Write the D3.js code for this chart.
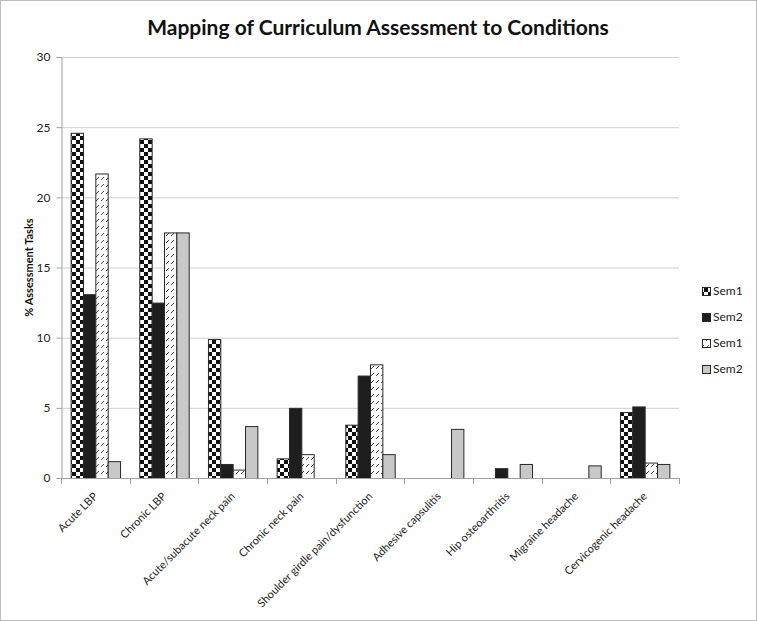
<!DOCTYPE html>
<html><head><meta charset="utf-8">
<script src="https://cdn.jsdelivr.net/npm/d3@7"></script>
<style>body{margin:0;background:#fff}svg{display:block}</style>
</head><body>
<svg id="c" width="757" height="621"></svg>
<script>
const categories = ["Acute LBP","Chronic LBP","Acute/subacute neck pain","Chronic neck pain","Shoulder girdle pain/dysfunction","Adhesive capsulitis","Hip osteoarthritis","Migraine headache","Cervicogenic headache"];
const seriesNames = ["Sem1","Sem2","Sem1","Sem2"];
const s1a = [24.6, 24.2, 9.9, 1.4, 3.8, 0, 0, 0, 4.7];
const s2a = [13.1, 12.5, 1.0, 5.0, 7.3, 0, 0.7, 0, 5.1];
const s1b = [21.7, 17.5, 0.6, 1.7, 8.1, 0, 0, 0, 1.1];
const s2b = [1.2, 17.5, 3.7, 0, 1.7, 3.5, 1.0, 0.9, 1.0];
const yTicks = [0,5,10,15,20,25,30];
const series = [s1a, s2a, s1b, s2b];
const fills = ["url(#checker)","#1e1e1e","url(#hatch)","#c8c8c8"];

const svg = d3.select("#c");
const font = "Lato, 'Open Sans', sans-serif";
svg.append("rect").attr("x",0.5).attr("y",0.5).attr("width",756).attr("height",620).attr("fill","#fff").attr("stroke","#bdbdbd");

const defs = svg.append("defs");
const pc = defs.append("pattern").attr("id","checker").attr("patternUnits","userSpaceOnUse").attr("width",8).attr("height",8);
pc.append("rect").attr("width",8).attr("height",8).attr("fill","#fff");
pc.append("rect").attr("width",4).attr("height",4).attr("fill","#111");
pc.append("rect").attr("x",4).attr("y",4).attr("width",4).attr("height",4).attr("fill","#111");
const ph = defs.append("pattern").attr("id","hatch").attr("patternUnits","userSpaceOnUse").attr("width",5).attr("height",7);
ph.append("rect").attr("width",5).attr("height",7).attr("fill","#fff");
ph.append("line").attr("x1",1).attr("y1",5).attr("x2",4).attr("y2",2).attr("stroke","#333").attr("stroke-width",0.9);

const L = 61, R = 679, T = 57, B = 478;
const x = d3.scaleBand().domain(categories).range([L,R]);
const xi = d3.scaleBand().domain(d3.range(4)).range([0,x.bandwidth()]).paddingOuter(0.78);
const y = d3.scaleLinear().domain([0,30]).range([B,T]);

svg.append("text").attr("x",378).attr("y",35).attr("text-anchor","middle")
  .attr("font-family",font).attr("font-weight","bold").attr("font-size",21).attr("fill","#111")
  .text("Mapping of Curriculum Assessment to Conditions");

// gridlines
svg.append("g").selectAll("line").data(yTicks.filter(d=>d>0)).join("line")
  .attr("x1",L).attr("x2",R).attr("y1",d=>y(d)+0.5).attr("y2",d=>y(d)+0.5)
  .attr("stroke","#cfcfcf");

// y axis
const ya = svg.append("g").attr("transform",`translate(${L+0.5},0)`)
  .call(d3.axisLeft(y).tickValues(yTicks).tickSize(5).tickPadding(6));
ya.select(".domain").attr("stroke","#a0a0a0");
ya.selectAll(".tick line").attr("stroke","#a0a0a0");
ya.selectAll("text").attr("font-family",font).attr("font-size",12).attr("fill","#222");

// bars
const g = svg.append("g");
series.forEach((s,si)=>{
  g.append("g").selectAll("rect").data(s.map((v,i)=>({v,c:categories[i]})).filter(d=>d.v>0)).join("rect")
    .attr("x",d=>x(d.c)+xi(si)+0.5)
    .attr("y",d=>y(d.v)+0.5)
    .attr("width",xi.bandwidth())
    .attr("height",d=>y(0)-y(d.v))
    .attr("fill",fills[si]).attr("stroke","#2a2a2a").attr("stroke-width",1);
});

// x axis
svg.append("line").attr("x1",L).attr("x2",R).attr("y1",B+0.5).attr("y2",B+0.5).attr("stroke","#a0a0a0");
const bounds = categories.map(c=>x(c)).concat([R]);
svg.append("g").selectAll("line").data(bounds).join("line")
  .attr("x1",d=>Math.round(d)+0.5).attr("x2",d=>Math.round(d)+0.5).attr("y1",B).attr("y2",B+6).attr("stroke","#a0a0a0");
svg.append("g").selectAll("text").data(categories).join("text")
  .attr("transform",d=>`translate(${x(d)+x.bandwidth()/2+1},${B+17}) rotate(-45)`)
  .attr("text-anchor","end").attr("dominant-baseline","middle")
  .attr("font-family",font).attr("font-size",11).attr("fill","#222")
  .text(d=>d);

// y label
svg.append("text").attr("transform",`translate(33,${(T+B)/2}) rotate(-90)`)
  .attr("text-anchor","middle").attr("font-family",font).attr("font-weight","bold").attr("font-size",11).attr("fill","#111")
  .text("% Assessment Tasks");

// legend
const lg = svg.append("g");
seriesNames.forEach((n,i)=>{
  const yy = 292 + i*26;
  lg.append("rect").attr("x",702.5).attr("y",yy-4.5).attr("width",8).attr("height",8).attr("fill",fills[i]).attr("stroke","#2a2a2a");
  lg.append("text").attr("x",713).attr("y",yy).attr("dominant-baseline","middle")
    .attr("font-family",font).attr("font-size",12).attr("fill","#222").text(n);
});
</script>
</body></html>
